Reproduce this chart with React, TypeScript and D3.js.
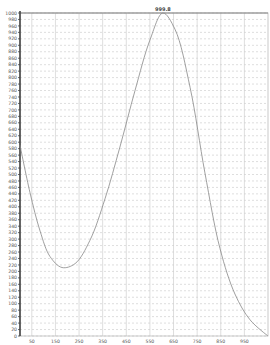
import * as d3 from "d3";

const xValues = [0, 42, 85, 127, 178, 233, 296, 360, 423, 487, 550, 605, 656, 720, 783, 847, 910, 974, 1050];
const yValues = [591, 445, 325, 246, 212, 224, 296, 425, 585, 760, 916, 1000, 950, 770, 505, 270, 130, 50, 0];
const xTickValues = [50, 150, 250, 350, 450, 550, 650, 750, 850, 950];
const peakLabel = "999.8";

export default function App() {
  const width = 270;
  const height = 345;
  const margin = { top: 13, right: 2, bottom: 9, left: 20 };

  const x = d3.scaleLinear().domain([0, 1050]).range([margin.left, width - margin.right]);
  const y = d3.scaleLinear().domain([0, 1000]).range([height - margin.bottom, margin.top]);
  const yTicks = d3.range(0, 1001, 20);

  const pts = xValues.map((v, i) => [v, yValues[i]] as [number, number]);
  const line = d3.line<[number, number]>()
    .x(d => x(d[0]))
    .y(d => y(d[1]))
    .curve(d3.curveCatmullRom.alpha(0.5));

  const peakIdx = yValues.indexOf(d3.max(yValues)!);

  return (
    <svg width={width} height={height} style={{ position: "absolute", left: 0, top: 0, background: "#fff" }}
      fontFamily="DejaVu Sans">
      {yTicks.map(t => (
        <line key={"h" + t} x1={margin.left} x2={width - margin.right} y1={y(t)} y2={y(t)}
          stroke="#c8c8c8" strokeWidth={0.6} strokeDasharray="2,2" />
      ))}
      {xTickValues.map(t => (
        <line key={"v" + t} x1={x(t)} x2={x(t)} y1={margin.top} y2={height - margin.bottom}
          stroke="#d0d0d0" strokeWidth={0.7} />
      ))}
      <rect x={margin.left} y={margin.top} width={width - margin.left - margin.right}
        height={height - margin.top - margin.bottom} fill="none" stroke="#bbb" strokeWidth={0.8} />
      <line x1={margin.left} x2={width - margin.right} y1={margin.top} y2={margin.top} stroke="#888" strokeWidth={1} />
      <line x1={margin.left} x2={margin.left} y1={margin.top - 2} y2={height - margin.bottom}
        stroke="#444" strokeWidth={1.6} />
      {yTicks.map(t => (
        <g key={"yl" + t}>
          <line x1={margin.left - 2} x2={margin.left} y1={y(t)} y2={y(t)} stroke="#444" strokeWidth={0.8} />
          <text x={margin.left - 3} y={y(t)} dy="0.35em" textAnchor="end" fontSize={4.6} fill="#555">{t}</text>
        </g>
      ))}
      {xTickValues.map(t => (
        <text key={"xl" + t} x={x(t)} y={height - 2} textAnchor="middle" fontSize={4.6} fill="#555">{t}</text>
      ))}
      <path d={line(pts) ?? ""} fill="none" stroke="#888" strokeWidth={0.8} />
      <text x={x(xValues[peakIdx])} y={y(yValues[peakIdx]) - 2} textAnchor="middle" fontSize={5}
        fontWeight="bold" fill="#444">{peakLabel}</text>
    </svg>
  );
}
